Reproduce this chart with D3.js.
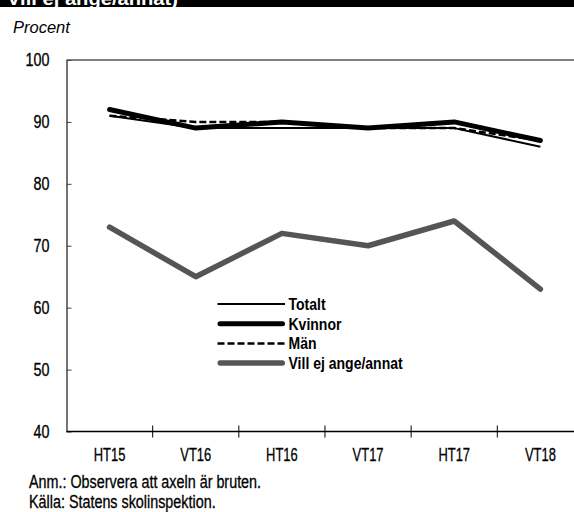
<!DOCTYPE html>
<html><head><meta charset="utf-8">
<script src="https://cdn.jsdelivr.net/npm/d3@7"></script>
<style>
html,body{margin:0;padding:0;background:#fff;}
svg{display:block;}
text{font-family:'Liberation Sans',Arial,sans-serif;}
text.reg{stroke:#000;stroke-width:0.3px;}
</style></head>
<body>
<script>
const categories = ["HT15","VT16","HT16","VT17","HT17","VT18"];
const totalt = [91, 89, 89, 89, 89, 86];
const kvinnor = [92, 89, 90, 89, 90, 87];
const man = [91, 90, 90, 89, 89, 87];
const villEj = [73, 65, 72, 70, 74, 63];
const yTicks = [40, 50, 60, 70, 80, 90, 100];
const seriesNames = ["Totalt", "Kvinnor", "Män", "Vill ej ange/annat"];

const W = 574, H = 512;
const svg = d3.select("body").append("svg").attr("width", W).attr("height", H);

// condense text horizontally around its anchor point
function cond(sel, sx){
  sel.each(function(){
    const t = d3.select(this);
    const x = +t.attr("x") || 0, y = +t.attr("y") || 0;
    t.attr("x", 0).attr("y", 0).attr("transform", `translate(${x},${y}) scale(${sx},1)`);
  });
}

// top banner (cropped title)
svg.append("rect").attr("x",0).attr("y",0).attr("width",W).attr("height",7).attr("fill","#000");
svg.append("text").attr("x",7).attr("y",4.5).attr("fill","#fff")
  .attr("font-weight","bold").attr("font-size",18)
  .attr("textLength",171).attr("lengthAdjust","spacingAndGlyphs").text("Vill ej ange/annat)");

svg.append("text").attr("x",13).attr("y",32.5)
  .attr("font-style","italic").attr("font-size",16.5).attr("fill","#000").text("Procent");

const x = d3.scaleBand().domain(categories).range([66.5, 66.5 + 6*86.16]);
const y = d3.scaleLinear().domain([40,100]).range([431.5, 60]);

// top frame line
svg.append("line").attr("x1",66.5).attr("x2",W).attr("y1",y(100)).attr("y2",y(100))
  .attr("stroke","#555").attr("stroke-width",1.4);

// y axis
const yAxis = svg.append("g").attr("transform","translate(66.5,0)")
  .call(d3.axisLeft(y).tickValues(yTicks).tickSizeInner(-5).tickSizeOuter(0).tickPadding(17));
yAxis.select(".domain").attr("stroke","#444").attr("stroke-width",1.5);
yAxis.selectAll(".tick line").attr("stroke","#444");
yAxis.selectAll("text").attr("class","reg").attr("font-family",null).attr("font-size",17.5).attr("fill","#000").call(cond, 0.82);

// x axis
const xg = svg.append("g").attr("transform",`translate(0,${y(40)})`);
xg.append("line").attr("x1",66.5).attr("x2",W).attr("stroke","#000").attr("stroke-width",1.3);
xg.selectAll(".bt").data(categories.slice(1)).enter().append("line")
  .attr("x1",d=>x(d)).attr("x2",d=>x(d)).attr("y1",-6).attr("y2",6)
  .attr("stroke","#000").attr("stroke-width",1);
xg.selectAll(".lbl").data(categories).enter().append("text").attr("class","reg")
  .attr("x",d=>x(d)+x.bandwidth()/2).attr("y",29.5).attr("text-anchor","middle")
  .attr("font-size",18.5).attr("fill","#000").text(d=>d).call(cond, 0.7);

const line = d3.line().x((d,i)=>x(categories[i])+x.bandwidth()/2).y(d=>y(d));

const styles = [
  {data: villEj, color:"#555", w:5.5, dash:null, cap:"round"},
  {data: totalt, color:"#000", w:2, dash:null, cap:"butt"},
  {data: man, color:"#000", w:2.5, dash:"7,3", cap:"butt"},
  {data: kvinnor, color:"#000", w:5, dash:null, cap:"round"},
];
const order = [styles[0], styles[3], styles[1], styles[2]];
order.forEach(s=>{
  svg.append("path").datum(s.data).attr("d",line).attr("fill","none")
    .attr("stroke",s.color).attr("stroke-width",s.w).attr("stroke-linecap",s.cap)
    .attr("stroke-linejoin","round").attr("stroke-dasharray",s.dash);
});

// legend
const legStyles = [styles[1], styles[3], styles[2], styles[0]];
const lg = svg.append("g");
seriesNames.forEach((n,i)=>{
  const yy = 304 + i*19.7;
  const s = legStyles[i];
  const inset = s.cap === "round" ? s.w/2 : 0;
  lg.append("line").attr("x1",217.5+inset).attr("x2",285-inset).attr("y1",yy).attr("y2",yy)
    .attr("stroke",s.color).attr("stroke-width",s.w).attr("stroke-linecap",s.cap)
    .attr("stroke-dasharray",s.dash);
  lg.append("text").attr("x",288.5).attr("y",yy+5.8)
    .attr("font-weight","bold").attr("font-size",16.5).attr("fill","#000").text(n).call(cond, 0.85);
});

// notes
svg.append("text").attr("class","reg").attr("x",29).attr("y",487.5).attr("font-size",17.5).attr("fill","#000")
  .text("Anm.: Observera att axeln är bruten.").call(cond, 0.82);
svg.append("text").attr("class","reg").attr("x",29).attr("y",508).attr("font-size",17.5).attr("fill","#000")
  .text("Källa: Statens skolinspektion.").call(cond, 0.82);
</script>
</body></html>
